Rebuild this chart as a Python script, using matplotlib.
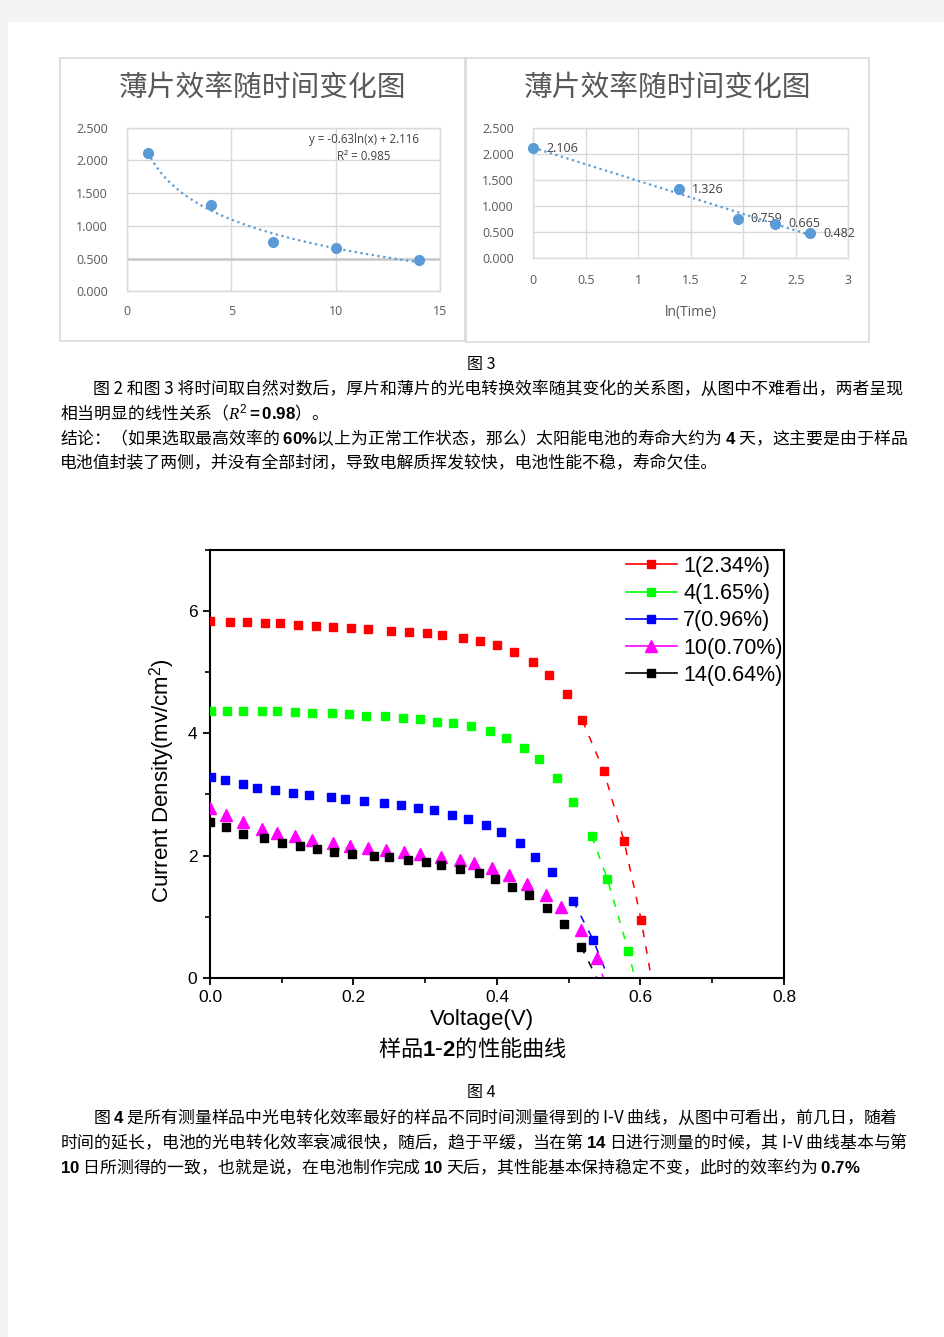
import numpy as np
import matplotlib
matplotlib.use('Agg')
import matplotlib.pyplot as plt
from matplotlib.patches import Rectangle
from matplotlib.lines import Line2D
from matplotlib.ticker import MultipleLocator

plt.rcParams['font.family'] = ['Noto Sans CJK SC', 'DejaVu Sans']
plt.rcParams['mathtext.fontset'] = 'custom'
plt.rcParams['mathtext.rm'] = 'Liberation Sans'
plt.rcParams['mathtext.it'] = 'Liberation Serif:italic'
plt.rcParams['mathtext.bf'] = 'Liberation Sans:bold'

# ---------------- data: efficiency vs time ----------------
days = [1, 4, 7, 10, 14]
eff = [2.106, 1.326, 0.759, 0.665, 0.482]
small_title = '薄片效率随时间变化图'
eq_text = 'y = -0.63ln(x) + 2.116'
r2_text = 'R² = 0.985'

# ---------------- data: I-V curves ----------------
red_v = [0.000, 0.028, 0.051, 0.077, 0.098, 0.123, 0.148, 0.171, 0.196, 0.220, 0.252, 0.277, 0.302,
         0.324, 0.353, 0.377, 0.400, 0.424, 0.450, 0.473, 0.497, 0.519, 0.549, 0.577, 0.601]
red_j = [5.83, 5.82, 5.82, 5.80, 5.80, 5.78, 5.75, 5.74, 5.73, 5.71, 5.68, 5.66, 5.64,
         5.61, 5.56, 5.51, 5.44, 5.33, 5.17, 4.96, 4.64, 4.21, 3.38, 2.24, 0.94]
green_v = [0.001, 0.024, 0.046, 0.072, 0.093, 0.119, 0.142, 0.170, 0.194, 0.217, 0.244, 0.269, 0.292,
           0.317, 0.339, 0.364, 0.390, 0.412, 0.438, 0.459, 0.484, 0.506, 0.532, 0.554, 0.583]
green_j = [4.36, 4.37, 4.37, 4.36, 4.36, 4.35, 4.34, 4.33, 4.31, 4.29, 4.28, 4.25, 4.23,
           4.19, 4.17, 4.12, 4.03, 3.92, 3.76, 3.58, 3.27, 2.88, 2.32, 1.61, 0.44]
blue_v = [0.001, 0.021, 0.046, 0.066, 0.091, 0.115, 0.138, 0.168, 0.188, 0.214, 0.243, 0.266,
          0.290, 0.312, 0.337, 0.360, 0.385, 0.406, 0.432, 0.453, 0.477, 0.506, 0.534]
blue_j = [3.28, 3.24, 3.17, 3.11, 3.07, 3.03, 2.99, 2.95, 2.93, 2.90, 2.86, 2.82,
          2.78, 2.75, 2.67, 2.60, 2.50, 2.38, 2.20, 1.97, 1.73, 1.26, 0.62]
mag_v = [0.000, 0.022, 0.046, 0.073, 0.094, 0.119, 0.142, 0.171, 0.195, 0.220, 0.245, 0.271,
         0.293, 0.322, 0.348, 0.368, 0.393, 0.417, 0.442, 0.468, 0.489, 0.517, 0.540]
mag_j = [2.77, 2.66, 2.55, 2.44, 2.37, 2.32, 2.25, 2.20, 2.16, 2.13, 2.09, 2.06,
         2.03, 1.98, 1.92, 1.87, 1.79, 1.68, 1.54, 1.35, 1.16, 0.78, 0.33]
blk_v = [0.000, 0.022, 0.046, 0.075, 0.101, 0.125, 0.149, 0.173, 0.198, 0.229, 0.249,
         0.276, 0.301, 0.322, 0.348, 0.375, 0.397, 0.421, 0.444, 0.470, 0.493, 0.517]
blk_j = [2.55, 2.46, 2.36, 2.28, 2.20, 2.15, 2.10, 2.06, 2.03, 1.99, 1.97,
         1.93, 1.89, 1.85, 1.78, 1.71, 1.61, 1.49, 1.35, 1.14, 0.88, 0.51]
voc = [0.615, 0.592, 0.555, 0.548, 0.539]
iv_labels = ['1(2.34%)', '4(1.65%)', '7(0.96%)', '10(0.70%)', '14(0.64%)']
x_ticks = [0.0, 0.2, 0.4, 0.6, 0.8]
y_ticks = [0, 2, 4, 6]

# ---------------- page text ----------------
cap3 = '图 3'
para1 = ['图 2 和图 3 将时间取自然对数后，厚片和薄片的光电转换效率随其变化的关系图，从图中不难看出，两者呈现',
         r'相当明显的线性关系（$R^2\mathbf{=0.98}$）。',
         r'结论：（如果选取最高效率的 $\mathbf{60\%}$以上为正常工作状态，那么）太阳能电池的寿命大约为 $\mathbf{4}$ 天，这主要是由于样品',
         '电池值封装了两侧，并没有全部封闭，导致电解质挥发较快，电池性能不稳，寿命欠佳。']
cap4 = '图 4'
para2 = [r'图 $\mathbf{4}$ 是所有测量样品中光电转化效率最好的样品不同时间测量得到的 I-V 曲线，从图中可看出，前几日，随着',
         r'时间的延长，电池的光电转化效率衰减很快，随后，趋于平缓，当在第 $\mathbf{14}$ 日进行测量的时候，其 I-V 曲线基本与第',
         r'$\mathbf{10}$ 日所测得的一致，也就是说，在电池制作完成 $\mathbf{10}$ 天后，其性能基本保持稳定不变，此时的效率约为 $\mathbf{0.7\%}$']

W, H = 945, 1337


def fx(x):
    return x / W


def fy(y):
    return 1 - y / H


def rect(l, t, r, b):
    return [fx(l), fy(b), (r - l) / W, (b - t) / H]


fig = plt.figure(figsize=(W / 100, H / 100), dpi=100)
fig.patch.set_facecolor('#F3F3F3')
fig.add_artist(Rectangle((8 / W, 0), 1 - 8 / W, 1 - 22 / H, transform=fig.transFigure,
                         facecolor='white', edgecolor='none', zorder=-10))

# boxes around small charts
for (l, t, r, b) in [(60, 58, 465.5, 341), (466.5, 58, 869, 342)]:
    fig.add_artist(Rectangle((fx(l), fy(b)), (r - l) / W, (b - t) / H, transform=fig.transFigure,
                             fill=False, edgecolor='#D9D9D9', lw=1.2, zorder=-5))

grey = '#595959'
ptc = '#5B9BD5'
ln_days = np.log(days)
slope, icpt = np.polyfit(ln_days, eff, 1)


def style_small(ax, xlim, xt, xlabels, xpad):
    ax.set_xlim(*xlim)
    ax.set_ylim(0, 2.5)
    yt = np.arange(0, 2.51, 0.5)
    ax.set_xticks(xt, xlabels, fontfamily='Open Sans', fontsize=9, color=grey)
    ax.set_yticks(yt, [f'{v:.3f}' for v in yt], fontfamily='Open Sans', fontsize=9, color=grey)
    ax.grid(True, color='#D9D9D9', lw=1.0)
    ax.set_axisbelow(True)
    for s in ax.spines.values():
        s.set_color('#D9D9D9')
        s.set_linewidth(1.0)
    ax.tick_params(axis='x', length=0, pad=xpad)
    ax.tick_params(axis='y', length=0, pad=13.9)


# left small chart
ax1 = fig.add_axes(rect(127.3, 127.7, 439.7, 291.3))
style_small(ax1, (0, 15), [0, 5, 10, 15], ['0', '5', '10', '15'], 10)
ax1.axhline(0.5, color='#C8C8C8', lw=1.8, zorder=1)
tx = np.linspace(min(days), max(days), 200)
ax1.plot(tx, icpt + slope * np.log(tx), linestyle=(0, (1, 1.6)), lw=1.6, color=ptc, zorder=2)
ax1.plot(days, eff, 'o', ms=7, color=ptc, zorder=4, clip_on=False)
ax1.text(0.758, 0.929, eq_text, transform=ax1.transAxes, ha='center', va='center',
         fontsize=8.3, color='#404040', fontfamily='Open Sans')
ax1.text(0.758, 0.821, r2_text, transform=ax1.transAxes, ha='center', va='center',
         fontsize=8.3, color='#404040', fontfamily='Open Sans')
fig.text(fx(262.5), fy(89), small_title, ha='center', va='center', fontsize=20.7,
         color=grey, fontweight='light')

# right small chart
ax2 = fig.add_axes(rect(533.3, 127.7, 848.3, 258.3))
xt2 = np.arange(0, 3.01, 0.5)
style_small(ax2, (0, 3), xt2, [f'{v:g}' for v in xt2], 11)
tx2 = np.linspace(0, ln_days.max(), 50)
ax2.plot(tx2, icpt + slope * tx2, linestyle=(0, (1, 1.6)), lw=1.6, color=ptc, zorder=2)
ax2.plot(ln_days, eff, 'o', ms=7, color=ptc, zorder=4, clip_on=False)
for xi, yi in zip(ln_days, eff):
    ax2.annotate(f'{yi:.3f}', (xi, yi), xytext=(9.5, 0), textcoords='offset points',
                 ha='left', va='center', fontsize=9, color='#404040', fontfamily='Open Sans')
ax2.set_xlabel('ln(Time)', fontfamily='Open Sans', fontsize=10, color=grey)
ax2.xaxis.label.set_va('center')
ax2.xaxis.set_label_coords(0.5, -0.4165)
fig.text(fx(667.3), fy(89), small_title, ha='center', va='center', fontsize=20.7,
         color=grey, fontweight='light')

# ---------------- page text ----------------
tfam = ['Noto Sans CJK SC', 'DejaVu Sans']
fig.text(fx(481), fy(364), cap3, ha='center', va='center', fontsize=11.5, fontfamily=tfam)
for i, (line, y) in enumerate(zip(para1, [389, 413, 438, 463])):
    x0 = 93 if i == 0 else 60
    fig.text(fx(x0), fy(y), line, ha='left', va='center', fontsize=12.15, fontfamily=tfam)
fig.text(fx(481), fy(1093), cap4, ha='center', va='center', fontsize=11.5, fontfamily=tfam)
for i, (line, y) in enumerate(zip(para2, [1117, 1142, 1167])):
    x0 = 93 if i == 0 else 60
    fig.text(fx(x0), fy(y), line, ha='left', va='center', fontsize=12.15, fontfamily=tfam)

# ---------------- I-V chart ----------------
ax3 = fig.add_axes(rect(210, 550, 784, 977.7))
ax3.set_xlim(0, 0.8)
ax3.set_ylim(0, 7)
sans = 'Liberation Sans'
ax3.set_xticks(x_ticks, [f'{v:.1f}' for v in x_ticks], fontfamily=sans, fontsize=12.5)
ax3.set_yticks(y_ticks, [str(v) for v in y_ticks], fontfamily=sans, fontsize=12.5)
ax3.xaxis.set_minor_locator(MultipleLocator(0.1))
ax3.yaxis.set_minor_locator(MultipleLocator(1))
ax3.tick_params(which='major', direction='out', length=5, width=1.3, pad=4)
ax3.tick_params(which='minor', direction='out', length=3.5, width=1.2)
for s in ax3.spines.values():
    s.set_linewidth(1.5)

series = [
    (red_v, red_j, '#FF0000', 's', 6.2, 4),
    (green_v, green_j, '#00FF00', 's', 6.2, 3),
    (blue_v, blue_j, '#0000FF', 's', 6.2, 2),
    (mag_v, mag_j, '#FF00FF', '^', 8.2, 1),
    (blk_v, blk_j, '#000000', 's', 6.2, 1),
]
handles = []
for (v, j, c, m, ms, ntail), vo, lab in zip(series, voc, iv_labels):
    tv = list(v[-ntail:]) + [vo]
    tj = list(j[-ntail:]) + [0.0]
    ax3.plot(tv, tj, color=c, lw=1.1, linestyle=(0, (5, 6)), zorder=2)
    ax3.plot(v, j, linestyle='none', marker=m, ms=ms, color=c, mec=c, zorder=3)
    handles.append(Line2D([], [], color=c, lw=1.2, marker=m, ms=ms, mec=c, label=lab))

leg = ax3.legend(handles=handles, loc='upper left', bbox_to_anchor=(fx(626), fy(556)),
                 bbox_transform=fig.transFigure, frameon=False, borderpad=0, borderaxespad=0,
                 handlelength=2.35, handletextpad=0.3, labelspacing=0.29,
                 prop={'family': sans, 'size': 15.5})

ax3.set_xlabel('Voltage(V)', fontfamily=sans, fontsize=16)
ax3.xaxis.label.set_va('center')
ax3.xaxis.set_label_coords(0.474, -0.0966)
ax3.set_ylabel('Current Density(mv/cm$^2$)', fontfamily=sans, fontsize=16)
ax3.yaxis.label.set_va('center')
ax3.yaxis.set_label_coords(-0.0825, 0.462)

fig.text(fx(473), fy(1049), r'样品$\mathbf{1}$-$\mathbf{2}$的性能曲线', ha='center', va='center',
         fontsize=16, fontfamily=tfam)

fig.savefig('out.png', dpi=100, facecolor=fig.get_facecolor())
